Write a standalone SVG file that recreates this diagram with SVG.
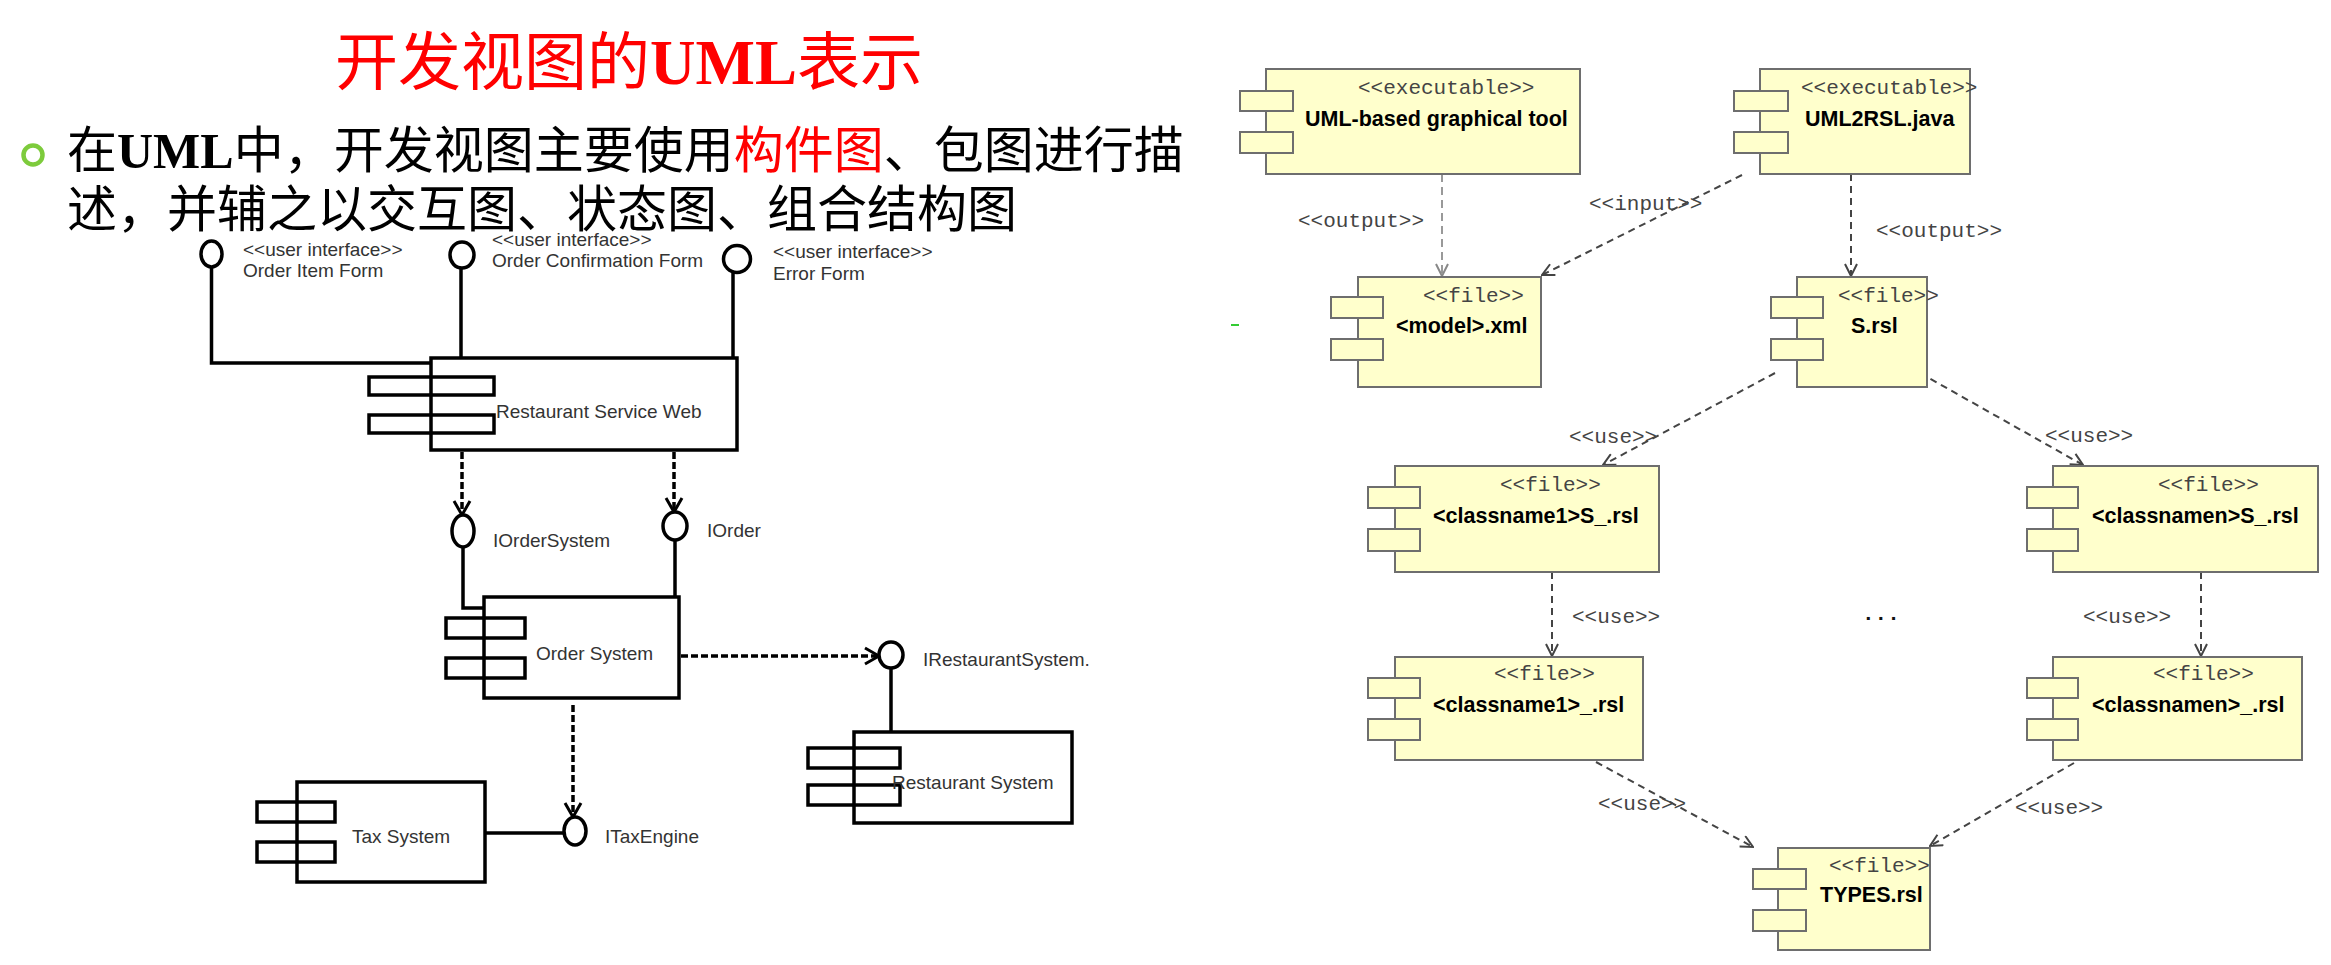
<svg xmlns="http://www.w3.org/2000/svg" width="2331" height="965" viewBox="0 0 2331 965">
<style>
.title{font-family:"Liberation Serif","Noto Sans CJK SC",serif;font-size:63px;fill:#FF0000}
.body{font-family:"Liberation Serif","Noto Sans CJK SC",serif;font-size:50px;fill:#000}
.b{font-weight:bold}
.red{fill:#FF0000}
.lbox{fill:#fff;stroke:#000;stroke-width:3.5}
.ltab{fill:none;stroke:#000;stroke-width:3.5}
.lif{fill:#fff;stroke:#000;stroke-width:3.5}
.lsolid{fill:none;stroke:#000;stroke-width:3.5}
.ldash{fill:none;stroke:#000;stroke-width:3.5;stroke-dasharray:7 3}
.ll{font-family:"Liberation Sans",Arial,sans-serif;font-size:19px;fill:#333}
.box{fill:#FFFFCC;stroke:#6e6e6e;stroke-width:2}
.st{font-family:"Liberation Mono","Courier New",monospace;font-size:21px;fill:#444}
.nm{font-family:"Liberation Sans",Arial,sans-serif;font-weight:bold;font-size:21.5px;fill:#000}
.dep{fill:none;stroke:#444;stroke-width:2;stroke-dasharray:7 5}
.depl{fill:none;stroke:#999;stroke-width:2;stroke-dasharray:8 5}
</style>
<defs>
<marker id="av" viewBox="0 0 14 14" refX="13" refY="7" markerWidth="14" markerHeight="14" markerUnits="userSpaceOnUse" orient="auto">
<path d="M1,1 L13,7 L1,13" fill="none" stroke="#444" stroke-width="2" stroke-dasharray="none"/>
</marker>
<marker id="avl" viewBox="0 0 14 14" refX="13" refY="7" markerWidth="14" markerHeight="14" markerUnits="userSpaceOnUse" orient="auto">
<path d="M1,1 L13,7 L1,13" fill="none" stroke="#888" stroke-width="2" stroke-dasharray="none"/>
</marker>
<marker id="lav" viewBox="0 0 18 20" refX="16" refY="10" markerWidth="18" markerHeight="20" markerUnits="userSpaceOnUse" orient="auto">
<path d="M2,2 L16,10 L2,18" fill="none" stroke="#000" stroke-width="3" stroke-dasharray="none"/>
</marker>
</defs>

<g id="heading">
<text class="title" x="335" y="84">开发视图的<tspan class="b">UML</tspan>表示</text>
<circle cx="33" cy="155" r="9.5" fill="none" stroke="#7DCB3C" stroke-width="4.5"/>
<text class="body" x="67" y="168">在<tspan class="b">UML</tspan>中，开发视图主要使用<tspan class="red">构件图</tspan>、包图进行描</text>
<text class="body" x="67" y="227">述，并辅之以交互图、状态图、组合结构图</text>
<rect x="1231" y="324" width="8" height="2" fill="#33CC33"/>
</g>

<g id="left-connectors">
<path class="lsolid" d="M211.5,267 V363 H431"/>
<path class="lsolid" d="M461,268 V358"/>
<path class="lsolid" d="M733,273 V358"/>
<path class="ldash" d="M462,452 V515" marker-end="url(#lav)"/>
<path class="ldash" d="M674,452 V512" marker-end="url(#lav)"/>
<path class="lsolid" d="M463,547 V608 H485"/>
<path class="lsolid" d="M675,540 V597"/>
<path class="ldash" d="M681,656 H879" marker-end="url(#lav)"/>
<path class="lsolid" d="M891,668 V732"/>
<path class="ldash" d="M573,705 V817" marker-end="url(#lav)"/>
<path class="lsolid" d="M485,833 H564"/>
</g>

<g id="order-item-form">
<ellipse class="lif" cx="211.5" cy="254" rx="10.5" ry="13"/>
<text class="ll" x="243" y="256">&lt;&lt;user interface&gt;&gt;</text>
<text class="ll" x="243" y="277">Order Item Form</text>
</g>
<g id="order-confirmation-form">
<ellipse class="lif" cx="462" cy="255" rx="12" ry="13"/>
<text class="ll" x="492" y="246">&lt;&lt;user interface&gt;&gt;</text>
<text class="ll" x="492" y="267">Order Confirmation Form</text>
</g>
<g id="error-form">
<ellipse class="lif" cx="737" cy="259" rx="13.5" ry="13.5"/>
<text class="ll" x="773" y="258">&lt;&lt;user interface&gt;&gt;</text>
<text class="ll" x="773" y="280">Error Form</text>
</g>
<g id="restaurant-service-web">
<rect class="lbox" x="431" y="358" width="306" height="92"/>
<rect class="ltab" x="369" y="377" width="125" height="18"/>
<rect class="ltab" x="369" y="415" width="125" height="18"/>
<text class="ll" x="496" y="418">Restaurant Service Web</text>
</g>
<g id="iordersystem">
<ellipse class="lif" cx="463" cy="531" rx="11" ry="16"/>
<text class="ll" x="493" y="547">IOrderSystem</text>
</g>
<g id="iorder">
<ellipse class="lif" cx="675" cy="526" rx="12" ry="14"/>
<text class="ll" x="707" y="537">IOrder</text>
</g>
<g id="order-system">
<rect class="lbox" x="484" y="597" width="195" height="101"/>
<rect class="ltab" x="446" y="618" width="79" height="20"/>
<rect class="ltab" x="446" y="658" width="79" height="20"/>
<text class="ll" x="536" y="660">Order System</text>
</g>
<g id="irestaurantsystem">
<ellipse class="lif" cx="891" cy="655" rx="12" ry="13"/>
<text class="ll" x="923" y="666">IRestaurantSystem.</text>
</g>
<g id="restaurant-system">
<rect class="lbox" x="854" y="732" width="218" height="91"/>
<rect class="ltab" x="808" y="748" width="92" height="20"/>
<rect class="ltab" x="808" y="785" width="92" height="20"/>
<text class="ll" x="892" y="789">Restaurant System</text>
</g>
<g id="itaxengine">
<ellipse class="lif" cx="575" cy="831" rx="11" ry="14"/>
<text class="ll" x="605" y="843">ITaxEngine</text>
</g>
<g id="tax-system">
<rect class="lbox" x="297" y="782" width="188" height="100"/>
<rect class="ltab" x="257" y="802" width="78" height="20"/>
<rect class="ltab" x="257" y="842" width="78" height="20"/>
<text class="ll" x="352" y="843">Tax System</text>
</g>

<g id="right-connectors">
<path class="depl" d="M1442,174 V276" marker-end="url(#avl)"/>
<path class="dep" d="M1742,175 L1542,275" marker-end="url(#av)"/>
<path class="dep" d="M1851,174 V276" marker-end="url(#av)"/>
<path class="dep" d="M1775,373 L1603,465" marker-end="url(#av)"/>
<path class="dep" d="M1920,373 L2083,465" marker-end="url(#av)"/>
<path class="dep" d="M1552,572 V656" marker-end="url(#av)"/>
<path class="dep" d="M2201,572 V656" marker-end="url(#av)"/>
<path class="dep" d="M1596,762 L1753,847" marker-end="url(#av)"/>
<path class="dep" d="M2074,763 L1930,846" marker-end="url(#av)"/>
<text class="st" x="1298" y="227">&lt;&lt;output&gt;&gt;</text>
<text class="st" x="1589" y="210">&lt;&lt;input&gt;&gt;</text>
<text class="st" x="1876" y="237">&lt;&lt;output&gt;&gt;</text>
<text class="st" x="1569" y="443">&lt;&lt;use&gt;&gt;</text>
<text class="st" x="2045" y="442">&lt;&lt;use&gt;&gt;</text>
<text class="st" x="1572" y="623">&lt;&lt;use&gt;&gt;</text>
<text class="st" x="2083" y="623">&lt;&lt;use&gt;&gt;</text>
<text class="st" x="1598" y="810">&lt;&lt;use&gt;&gt;</text>
<text class="st" x="2015" y="814">&lt;&lt;use&gt;&gt;</text>
<text class="st" x="1862" y="620" style="fill:#111;font-weight:bold">...</text>
</g>

<g id="uml-tool">
<rect class="box" x="1266" y="69" width="314" height="105"/>
<rect class="box" x="1240" y="91" width="53" height="20"/>
<rect class="box" x="1240" y="132" width="53" height="21"/>
<text class="st" x="1358" y="94">&lt;&lt;executable&gt;&gt;</text>
<text class="nm" x="1305" y="126">UML-based graphical tool</text>
</g>
<g id="uml2rsl">
<rect class="box" x="1760" y="69" width="210" height="105"/>
<rect class="box" x="1734" y="91" width="54" height="20"/>
<rect class="box" x="1734" y="132" width="54" height="21"/>
<text class="st" x="1801" y="94">&lt;&lt;executable&gt;&gt;</text>
<text class="nm" x="1805" y="126">UML2RSL.java</text>
</g>
<g id="model-xml">
<rect class="box" x="1358" y="277" width="183" height="110"/>
<rect class="box" x="1331" y="297" width="52" height="21"/>
<rect class="box" x="1331" y="339" width="52" height="21"/>
<text class="st" x="1423" y="302">&lt;&lt;file&gt;&gt;</text>
<text class="nm" x="1396" y="333">&lt;model&gt;.xml</text>
</g>
<g id="s-rsl">
<rect class="box" x="1797" y="277" width="130" height="110"/>
<rect class="box" x="1771" y="297" width="52" height="21"/>
<rect class="box" x="1771" y="339" width="52" height="21"/>
<text class="st" x="1838" y="302">&lt;&lt;file&gt;&gt;</text>
<text class="nm" x="1851" y="333">S.rsl</text>
</g>
<g id="classname1-s">
<rect class="box" x="1395" y="466" width="264" height="106"/>
<rect class="box" x="1368" y="487" width="52" height="21"/>
<rect class="box" x="1368" y="529" width="52" height="22"/>
<text class="st" x="1500" y="491">&lt;&lt;file&gt;&gt;</text>
<text class="nm" x="1433" y="523">&lt;classname1&gt;S_.rsl</text>
</g>
<g id="classnamen-s">
<rect class="box" x="2053" y="466" width="265" height="106"/>
<rect class="box" x="2027" y="487" width="51" height="21"/>
<rect class="box" x="2027" y="529" width="51" height="22"/>
<text class="st" x="2158" y="491">&lt;&lt;file&gt;&gt;</text>
<text class="nm" x="2092" y="523">&lt;classnamen&gt;S_.rsl</text>
</g>
<g id="classname1">
<rect class="box" x="1395" y="657" width="248" height="103"/>
<rect class="box" x="1368" y="678" width="52" height="20"/>
<rect class="box" x="1368" y="719" width="52" height="21"/>
<text class="st" x="1494" y="680">&lt;&lt;file&gt;&gt;</text>
<text class="nm" x="1433" y="712">&lt;classname1&gt;_.rsl</text>
</g>
<g id="classnamen">
<rect class="box" x="2053" y="657" width="249" height="103"/>
<rect class="box" x="2027" y="678" width="51" height="20"/>
<rect class="box" x="2027" y="719" width="51" height="21"/>
<text class="st" x="2153" y="680">&lt;&lt;file&gt;&gt;</text>
<text class="nm" x="2092" y="712">&lt;classnamen&gt;_.rsl</text>
</g>
<g id="types-rsl">
<rect class="box" x="1778" y="848" width="152" height="102"/>
<rect class="box" x="1753" y="869" width="53" height="20"/>
<rect class="box" x="1753" y="910" width="53" height="21"/>
<text class="st" x="1829" y="872">&lt;&lt;file&gt;&gt;</text>
<text class="nm" x="1820" y="902">TYPES.rsl</text>
</g>
</svg>
